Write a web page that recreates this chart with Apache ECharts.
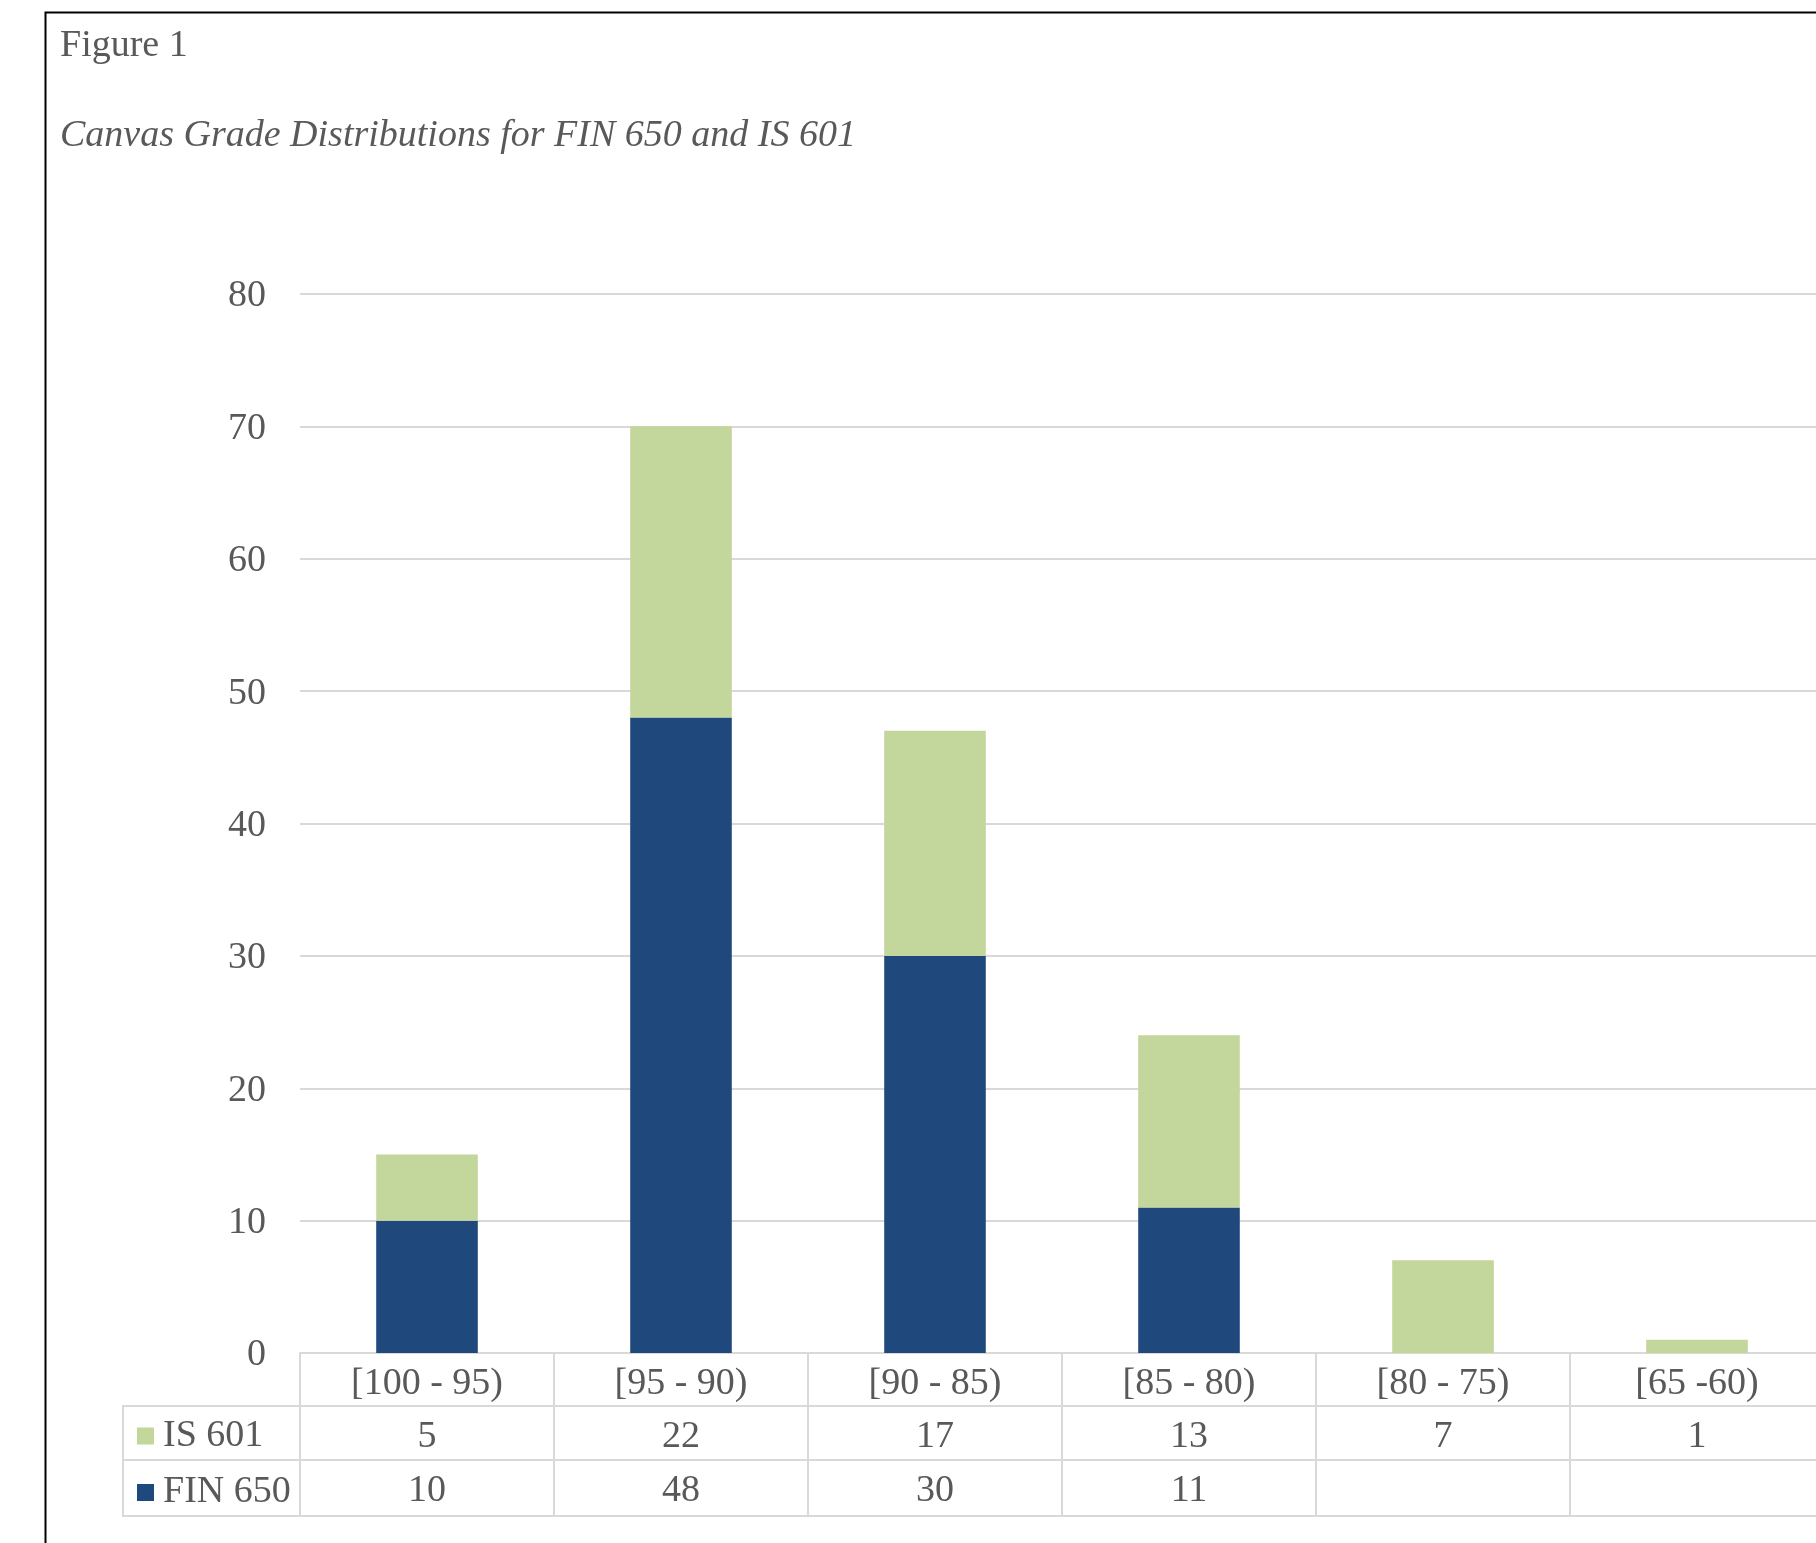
<!DOCTYPE html>
<html>
<head>
<meta charset="utf-8">
<script src="https://cdn.jsdelivr.net/npm/echarts@6/dist/echarts.min.js"></script>
<style>
html,body{margin:0;padding:0;background:#fff;}
#chart{width:1816px;height:1543px;}
</style>
</head>
<body>
<div id="chart"></div>
<script>
const categories = ['[100 - 95)', '[95 - 90)', '[90 - 85)', '[85 - 80)', '[80 - 75)', '[65 -60)'];
const is601 = [5, 22, 17, 13, 7, 1];
const fin650 = [10, 48, 30, 11, null, null];
const yTicks = [0, 10, 20, 30, 40, 50, 60, 70, 80];

const FONT = "'Liberation Serif', 'Times New Roman', serif";
const FS = 38;
const TXT = '#595959';
const LINE = '#d9d9d9';

const chart = echarts.init(document.getElementById('chart'));

function tableAxis(offset, vals, margin) {
  return {
    type: 'category',
    data: categories,
    position: 'bottom',
    offset: offset,
    gridIndex: 0,
    axisLine: { show: true, lineStyle: { color: LINE, width: 2 } },
    axisTick: { show: false },
    splitLine: { show: false },
    axisLabel: {
      show: !!vals,
      interval: 0,
      margin: margin,
      fontFamily: FONT,
      fontSize: FS,
      color: TXT,
      formatter: function (v, i) {
        if (!vals) return '';
        const x = vals[i];
        return (x === null || x === undefined) ? '' : String(x);
      }
    }
  };
}

const option = {
  backgroundColor: '#ffffff',
  animation: false,
  title: [
    {
      text: 'Figure 1',
      left: 60, top: 27, padding: 0,
      textStyle: { fontFamily: FONT, fontSize: FS, fontWeight: 'normal', color: TXT }
    },
    {
      text: 'Canvas Grade Distributions for FIN 650 and IS 601',
      left: 60, top: 117, padding: 0,
      textStyle: { fontFamily: FONT, fontSize: FS, fontWeight: 'normal', fontStyle: 'italic', color: TXT }
    }
  ],
  legend: {
    data: ['IS 601', 'FIN 650'],
    orient: 'vertical',
    left: 137,
    top: 1416,
    padding: 0,
    itemWidth: 17,
    itemHeight: 17,
    itemGap: 16.5,
    icon: 'rect',
    selectedMode: false,
    textStyle: { fontFamily: FONT, fontSize: FS, color: TXT, lineHeight: 38, padding: [2, 0, 0, 4] }
  },
  grid: { left: 300, top: 294, bottom: 190, width: 1524, containLabel: false, outerBoundsMode: 'none' },
  xAxis: [
    {
      type: 'category',
      data: categories,
      position: 'bottom',
      boundaryGap: true,
      axisLine: { show: true, lineStyle: { color: LINE, width: 2 } },
      axisTick: { show: true, length: 163, lineStyle: { color: LINE, width: 2 } },
      axisLabel: { interval: 0, margin: 12, fontFamily: FONT, fontSize: FS, color: TXT },
      splitLine: { show: false }
    },
    tableAxis(53, is601, 12),
    tableAxis(107, fin650, 12),
    tableAxis(163, null, 12)
  ],
  yAxis: {
    type: 'value',
    min: yTicks[0],
    max: yTicks[yTicks.length - 1],
    interval: 10,
    axisLine: { show: false },
    axisTick: { show: false },
    splitLine: { show: true, lineStyle: { color: LINE, width: 2 } },
    axisLabel: {
      margin: 34, color: TXT,
      formatter: function (v) { return '{n|' + v + '}'; },
      rich: { n: { fontFamily: FONT, fontSize: FS, color: TXT, padding: [5, 0, 0, 0] } }
    }
  },
  series: [
    {
      name: 'FIN 650',
      type: 'bar',
      stack: 'total',
      barWidth: '40%',
      itemStyle: { color: '#1F497D' },
      data: fin650
    },
    {
      name: 'IS 601',
      type: 'bar',
      stack: 'total',
      barWidth: '40%',
      itemStyle: { color: '#C3D69B' },
      data: is601
    }
  ],
  graphic: [
    { type: 'rect', left: 43, top: 10, shape: { x: 0, y: 0, width: 1900, height: 1700 },
      style: { fill: 'none', stroke: '#000', lineWidth: 2 }, silent: true },
    { type: 'line', shape: { x1: 123, y1: 1406, x2: 301, y2: 1406 }, style: { stroke: LINE, lineWidth: 2 }, silent: true },
    { type: 'line', shape: { x1: 123, y1: 1460, x2: 301, y2: 1460 }, style: { stroke: LINE, lineWidth: 2 }, silent: true },
    { type: 'line', shape: { x1: 123, y1: 1516, x2: 301, y2: 1516 }, style: { stroke: LINE, lineWidth: 2 }, silent: true },
    { type: 'line', shape: { x1: 123, y1: 1405, x2: 123, y2: 1517 }, style: { stroke: LINE, lineWidth: 2 }, silent: true }
  ]
};

chart.setOption(option);
</script>
</body>
</html>
